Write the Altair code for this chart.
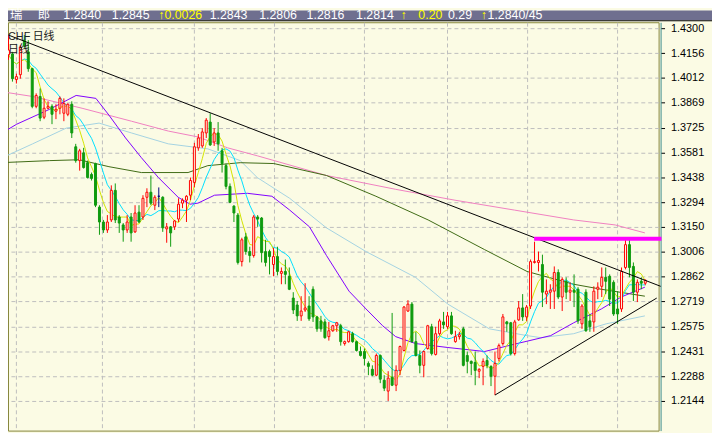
import altair as alt
import pandas as pd

# ---------------- data ----------------
opens = [
    1.4163, 1.4117, 1.4146, 1.4151, 1.4003, 1.4031, 1.4231, 1.4163, 1.4066, 1.3848,
    1.3905, 1.3785, 1.3837, 1.3848, 1.3820, 1.3837, 1.3808, 1.3802, 1.3860, 1.3614,
    1.3534, 1.3579, 1.3522, 1.3454, 1.3517, 1.3265, 1.3179, 1.3133, 1.3191, 1.3362,
    1.3208, 1.3162, 1.3133, 1.3208, 1.3122, 1.3236, 1.3208, 1.3322, 1.3351, 1.3276,
    1.3328, 1.3322, 1.3139, 1.3151, 1.3151, 1.3196, 1.3288, 1.3305, 1.3334, 1.3408,
    1.3608, 1.3619, 1.3694, 1.3757, 1.3642, 1.3694, 1.3591, 1.3505, 1.3385, 1.3271,
    1.3219, 1.2950, 1.3093, 1.3008, 1.2985, 1.3208, 1.3202, 1.3008, 1.3008, 1.2933,
    1.2979, 1.2882, 1.2893, 1.2865, 1.2739, 1.2699, 1.2636, 1.2670, 1.2693, 1.2790,
    1.2630, 1.2607, 1.2601, 1.2516, 1.2550, 1.2579, 1.2579, 1.2476, 1.2487, 1.2533,
    1.2487, 1.2430, 1.2430, 1.2361, 1.2327, 1.2293, 1.2407, 1.2264, 1.2201, 1.2281,
    1.2235, 1.2321, 1.2436, 1.2664, 1.2704, 1.2487, 1.2407, 1.2350, 1.2447, 1.2573,
    1.2413, 1.2533, 1.2601, 1.2573, 1.2636, 1.2487, 1.2516, 1.2561, 1.2407, 1.2373,
    1.2367, 1.2316, 1.2344, 1.2378, 1.2344, 1.2287, 1.2390, 1.2476, 1.2601, 1.2596,
    1.2418, 1.2613, 1.2682, 1.2630, 1.2693, 1.2945, 1.2945, 1.2933, 1.2762, 1.2773,
    1.2779, 1.2887, 1.2745, 1.2836, 1.2773, 1.2785, 1.2790, 1.2590, 1.2773, 1.2607,
    1.2601, 1.2790, 1.2807, 1.2859, 1.2865, 1.2830, 1.2676, 1.2676, 1.2916, 1.3048,
    1.2922, 1.2773, 1.2836, 1.2825,
]
highs = [
    1.4209, 1.4191, 1.4260, 1.4163, 1.4037, 1.4203, 1.4260, 1.4231, 1.4071, 1.3923,
    1.3951, 1.3894, 1.3877, 1.3860, 1.3860, 1.3905, 1.3894, 1.3865, 1.3877, 1.3631,
    1.3602, 1.3608, 1.3534, 1.3465, 1.3522, 1.3276, 1.3191, 1.3219, 1.3391, 1.3402,
    1.3219, 1.3173, 1.3219, 1.3231, 1.3276, 1.3276, 1.3334, 1.3374, 1.3448, 1.3334,
    1.3379, 1.3328, 1.3173, 1.3156, 1.3191, 1.3316, 1.3316, 1.3334, 1.3436, 1.3637,
    1.3688, 1.3722, 1.3780, 1.3808, 1.3722, 1.3757, 1.3608, 1.3517, 1.3402, 1.3276,
    1.3231, 1.3088, 1.3116, 1.3036, 1.3219, 1.3219, 1.3208, 1.3076, 1.3019, 1.3030,
    1.3036, 1.2916, 1.2962, 1.2916, 1.2773, 1.2722, 1.2750, 1.2825, 1.2750, 1.2807,
    1.2636, 1.2636, 1.2619, 1.2601, 1.2584, 1.2601, 1.2590, 1.2493, 1.2550, 1.2544,
    1.2493, 1.2459, 1.2447, 1.2373, 1.2350, 1.2418, 1.2413, 1.2293, 1.2316, 1.2653,
    1.2350, 1.2464, 1.2693, 1.2727, 1.2716, 1.2544, 1.2436, 1.2436, 1.2584, 1.2590,
    1.2573, 1.2619, 1.2659, 1.2659, 1.2659, 1.2550, 1.2544, 1.2573, 1.2430, 1.2378,
    1.2430, 1.2333, 1.2390, 1.2407, 1.2350, 1.2430, 1.2476, 1.2647, 1.2607, 1.2601,
    1.2613, 1.2722, 1.2762, 1.2699, 1.2962, 1.3065, 1.3008, 1.2990, 1.2847, 1.2819,
    1.2922, 1.2905, 1.2859, 1.2859, 1.2830, 1.2876, 1.2802, 1.2704, 1.2790, 1.2647,
    1.2807, 1.2830, 1.2916, 1.2916, 1.2876, 1.2842, 1.2779, 1.2916, 1.3076, 1.3076,
    1.2945, 1.2847, 1.2859, 1.2847,
]
lows = [
    1.4094, 1.4066, 1.4117, 1.3991, 1.3980, 1.4008, 1.4186, 1.4048, 1.3837, 1.3837,
    1.3762, 1.3774, 1.3831, 1.3745, 1.3774, 1.3802, 1.3762, 1.3791, 1.3665, 1.3522,
    1.3476, 1.3488, 1.3431, 1.3419, 1.3265, 1.3105, 1.3116, 1.3116, 1.3179, 1.3173,
    1.3116, 1.3065, 1.3116, 1.3065, 1.3116, 1.3173, 1.3191, 1.3265, 1.3276, 1.3248,
    1.3265, 1.3122, 1.3059, 1.3036, 1.3133, 1.3179, 1.3259, 1.3179, 1.3305, 1.3379,
    1.3591, 1.3608, 1.3665, 1.3619, 1.3619, 1.3591, 1.3465, 1.3368, 1.3288, 1.3179,
    1.2933, 1.2922, 1.2990, 1.2945, 1.2973, 1.3151, 1.2945, 1.2922, 1.2876, 1.2865,
    1.2870, 1.2819, 1.2819, 1.2785, 1.2647, 1.2607, 1.2607, 1.2659, 1.2607, 1.2601,
    1.2544, 1.2544, 1.2504, 1.2493, 1.2544, 1.2544, 1.2464, 1.2464, 1.2481, 1.2481,
    1.2430, 1.2401, 1.2350, 1.2293, 1.2287, 1.2287, 1.2247, 1.2201, 1.2144, 1.2230,
    1.2201, 1.2293, 1.2430, 1.2659, 1.2481, 1.2401, 1.2304, 1.2281, 1.2441, 1.2407,
    1.2407, 1.2522, 1.2561, 1.2561, 1.2527, 1.2481, 1.2499, 1.2344, 1.2304, 1.2293,
    1.2235, 1.2276, 1.2235, 1.2333, 1.2230, 1.2178, 1.2373, 1.2464, 1.2544, 1.2407,
    1.2407, 1.2607, 1.2607, 1.2607, 1.2676, 1.2939, 1.2893, 1.2687, 1.2704, 1.2676,
    1.2676, 1.2733, 1.2664, 1.2733, 1.2722, 1.2687, 1.2590, 1.2561, 1.2544, 1.2544,
    1.2544, 1.2733, 1.2745, 1.2762, 1.2693, 1.2636, 1.2590, 1.2659, 1.2905, 1.2859,
    1.2722, 1.2716, 1.2790, 1.2813,
]
closes = [
    1.4117, 1.4146, 1.4174, 1.4008, 1.4020, 1.4191, 1.4197, 1.4066, 1.3848, 1.3911,
    1.3780, 1.3837, 1.3848, 1.3802, 1.3831, 1.3894, 1.3865, 1.3860, 1.3694, 1.3534,
    1.3591, 1.3494, 1.3436, 1.3431, 1.3276, 1.3179, 1.3133, 1.3179, 1.3362, 1.3191,
    1.3173, 1.3133, 1.3179, 1.3116, 1.3231, 1.3179, 1.3316, 1.3351, 1.3288, 1.3322,
    1.3328, 1.3145, 1.3151, 1.3116, 1.3185, 1.3282, 1.3305, 1.3328, 1.3419, 1.3614,
    1.3665, 1.3700, 1.3768, 1.3625, 1.3694, 1.3631, 1.3517, 1.3385, 1.3293, 1.3231,
    1.2945, 1.3076, 1.3008, 1.2985, 1.3208, 1.3196, 1.3002, 1.2945, 1.2979, 1.2979,
    1.2893, 1.2893, 1.2876, 1.2790, 1.2670, 1.2636, 1.2664, 1.2682, 1.2619, 1.2630,
    1.2561, 1.2561, 1.2510, 1.2550, 1.2579, 1.2596, 1.2487, 1.2487, 1.2544, 1.2487,
    1.2436, 1.2407, 1.2390, 1.2344, 1.2293, 1.2407, 1.2270, 1.2218, 1.2276, 1.2235,
    1.2321, 1.2459, 1.2687, 1.2704, 1.2487, 1.2407, 1.2350, 1.2430, 1.2579, 1.2418,
    1.2533, 1.2607, 1.2584, 1.2636, 1.2533, 1.2516, 1.2527, 1.2350, 1.2373, 1.2361,
    1.2321, 1.2327, 1.2373, 1.2350, 1.2287, 1.2361, 1.2464, 1.2630, 1.2590, 1.2418,
    1.2601, 1.2682, 1.2630, 1.2687, 1.2950, 1.2950, 1.2956, 1.2773, 1.2779, 1.2785,
    1.2887, 1.2745, 1.2847, 1.2773, 1.2785, 1.2773, 1.2607, 1.2693, 1.2550, 1.2573,
    1.2779, 1.2802, 1.2859, 1.2836, 1.2733, 1.2647, 1.2647, 1.2893, 1.3048, 1.2916,
    1.2773, 1.2830, 1.2825, 1.2842,
]
days = list(range(len(closes)))

# month separators (day positions of the dashed vertical grid lines)
month_lines = [3.8, 25.6, 48.9, 69.0, 91.9, 112.9, 133.1, 155.9]
# right-axis tick labels
y_ticks = [1.4300, 1.4156, 1.4012, 1.3869, 1.3725, 1.3581, 1.3438, 1.3294,
           1.3150, 1.3006, 1.2862, 1.2719, 1.2575, 1.2431, 1.2288, 1.2144]

# slow moving averages, sampled along the drawn curves
pink_day = [-0.1, 8.1, 20.6, 33.1, 42.4, 49.9, 57.4, 64.9, 82.4, 99.9, 114.9, 129.9, 144.9, 155.4, 162.9]
pink_val = [1.3934, 1.3905, 1.3837, 1.3762, 1.3705, 1.3671, 1.3608, 1.3562, 1.3448, 1.3368,
            1.3305, 1.3248, 1.3191, 1.3162, 1.3116]
olive_day = [-0.1, 12.4, 19.9, 27.4, 35.6, 47.4, 52.4, 60.6, 69.1, 82.4, 94.9, 108.1, 122.4,
             133.1, 144.9, 151.9, 162.9]
olive_val = [1.3522, 1.3534, 1.3539, 1.3499, 1.3465, 1.3465, 1.3505, 1.3522, 1.3517, 1.3448,
             1.3328, 1.3191, 1.3019, 1.2893, 1.2819, 1.2790, 1.2750]
lblue_day = [-0.1, 8.1, 16.6, 24.9, 33.1, 42.4, 52.4, 60.6, 64.9, 73.1, 82.4, 92.4, 104.9,
             113.1, 123.6, 133.1, 136.6, 144.9, 153.1, 162.9]
lblue_val = [1.3545, 1.3631, 1.3722, 1.3751, 1.3694, 1.3631, 1.3602, 1.3534, 1.3436, 1.3316,
             1.3145, 1.3008, 1.2859, 1.2704, 1.2561, 1.2522, 1.2510, 1.2533, 1.2590, 1.2636]
purple_day = [-0.1, 4.1, 12.4, 19.1, 24.1, 27.4, 31.6, 35.6, 39.9, 44.9, 47.9, 49.9, 54.1,
              62.4, 68.6, 73.1, 78.1, 82.4, 88.1, 92.4, 96.6, 99.9, 104.9, 113.1, 122.4,
              130.6, 139.1, 144.9, 151.9, 156.9, 162.9]
purple_val = [1.3688, 1.3745, 1.3831, 1.3911, 1.3894, 1.3797, 1.3665, 1.3551, 1.3436, 1.3322,
              1.3282, 1.3288, 1.3334, 1.3345, 1.3328, 1.3248, 1.3151, 1.2985, 1.2779, 1.2676,
              1.2579, 1.2516, 1.2476, 1.2453, 1.2430, 1.2476, 1.2522, 1.2596, 1.2676, 1.2745,
              1.2802]

# trend lines and resistance
trend_start_day = [2.0, 125.0]
trend_start_val = [1.4260, 1.2178]
trend_end_day = [166.9, 165.9]
trend_end_val = [1.2807, 1.2739]
resist_from, resist_to, resist_val = 134.9, 167.1, 1.3082

# quote bar
header_text = ["瑞", "郎", "1.2840", "1.2845", "↑0.0026", "1.2843", "1.2806", "1.2816",
               "1.2814", "↑", "0.20", "0.29", "↑", "1.2840/45"]
header_yellow = [False, False, False, False, True, False, False, False,
                 False, True, True, False, True, False]
corner_text = ["CHF", "日线", "日线"]

# ---------------- layout / style ----------------
BG = "#fbfbe4"
GREEN = "#0f9b0f"
RED = "#ff0000"
PLOT_W, PLOT_H = 658, 413
header_px = [2, 30, 56, 105, 152, 204, 254, 302, 352, 397, 415, 445, 478, 485]
corner_pos = [(0, 18), (25, 18), (0, 31)]
FONT = "Liberation Sans, Noto Sans CJK SC"

x_scale = alt.Scale(domain=[1.875, 166.375], nice=False, zero=False)
y_scale = alt.Scale(domain=[1.197243, 1.433431], nice=False, zero=False)
x_axis = alt.Axis(values=month_lines, grid=True, gridColor="#bdbdbd", gridDash=[4, 3],
                  labels=False, ticks=False, domain=False, title=None)
y_axis = alt.Axis(orient="right", values=y_ticks, format=".4f", grid=True,
                  gridColor="#bdbdbd", gridDash=[4, 3], domainColor="#3c8c8c",
                  offset=2, tickSize=4, tickColor="#000000", labelPadding=6,
                  labelFont="Liberation Sans", labelFontSize=11, labelColor="#000000",
                  labelFlush=False, labelOverlap=False, title=None)

df = pd.DataFrame({"day": days, "open": opens, "high": highs, "low": lows, "close": closes})
df["dir"] = ["up" if c > o else ("down" if c < o else "flat") for o, c in zip(opens, closes)]

dir_dom = ["up", "down", "flat"]
stroke_scale = alt.Scale(domain=dir_dom, range=[RED, GREEN, "#000080"])
fill_scale = alt.Scale(domain=dir_dom, range=[BG, GREEN, "#000080"])

X = lambda f: alt.X(f, type="quantitative", scale=x_scale, axis=x_axis)
Y = lambda f: alt.Y(f, type="quantitative", scale=y_scale, axis=y_axis)


def sampled_line(d, v, color):
    data = pd.DataFrame({"day": d, "val": v})
    return alt.Chart(data).mark_line(color=color, strokeWidth=1).encode(x=X("day"), y=Y("val"))


layers = [
    sampled_line(pink_day, pink_val, "#f080c0"),
    sampled_line(lblue_day, lblue_val, "#a4d2e2"),
    sampled_line(olive_day, olive_val, "#3f6a14"),
    sampled_line(purple_day, purple_val, "#8000ff"),
]

base = alt.Chart(df)
layers.append(
    base.transform_window(ma10="mean(close)", frame=[-9, 0], sort=[{"field": "day"}])
    .mark_line(color="#00e0ff", strokeWidth=1).encode(x=X("day"), y=Y("ma10"))
)
layers.append(
    base.transform_window(ma5="mean(close)", frame=[-4, 0], sort=[{"field": "day"}])
    .mark_line(color="#d2e400", strokeWidth=1).encode(x=X("day"), y=Y("ma5"))
)
# wicks
layers.append(
    base.mark_rule(strokeWidth=1).encode(
        x=X("day"), y=Y("low"), y2="high",
        color=alt.Color("dir:N", scale=stroke_scale, legend=None))
)
# bodies
layers.append(
    base.transform_calculate(x1="datum.day - 0.25", x2="datum.day + 0.25")
    .mark_rect(strokeWidth=1).encode(
        x=X("x1"), x2="x2", y=Y("open"), y2="close",
        fill=alt.Fill("dir:N", scale=fill_scale, legend=None),
        stroke=alt.Stroke("dir:N", scale=stroke_scale, legend=None))
)
# trend lines
tdf = pd.DataFrame({"d0": trend_start_day, "v0": trend_start_val,
                    "d1": trend_end_day, "v1": trend_end_val})
layers.append(
    alt.Chart(tdf).mark_rule(color="#000000", strokeWidth=1).encode(
        x=X("d0"), y=Y("v0"), x2="d1", y2="v1")
)
rdf = pd.DataFrame({"d0": [resist_from], "d1": [resist_to], "v": [resist_val]})
layers.append(
    alt.Chart(rdf).mark_rule(color="#ff00ff", strokeWidth=4).encode(
        x=X("d0"), x2="d1", y=Y("v"))
)

one = pd.DataFrame({"k": [0]})
# quote bar on top
layers.append(
    alt.Chart(one).mark_rect(color="#6f6f8f").encode(
        x=alt.value(0), x2=alt.value(712), y=alt.value(-12), y2=alt.value(-2))
)
layers.append(
    alt.Chart(one).mark_rule(color="#000000", strokeWidth=1).encode(
        x=alt.value(0), x2=alt.value(712), y=alt.value(-1.5))
)
for txt, yel, px in zip(header_text, header_yellow, header_px):
    layers.append(
        alt.Chart(one).mark_text(align="left", baseline="alphabetic", fontSize=12.5,
                                 font=FONT, color="#ffff00" if yel else "#ffffff")
        .encode(x=alt.value(px), y=alt.value(-3.5), text=alt.value(txt))
    )
# symbol / period labels in the top-left corner
for txt, (px, py) in zip(corner_text, corner_pos):
    layers.append(
        alt.Chart(one).mark_text(align="left", baseline="alphabetic", fontSize=11,
                                 font=FONT, color="#202020")
        .encode(x=alt.value(px), y=alt.value(py), text=alt.value(txt))
    )

chart = alt.layer(*layers).properties(
    width=PLOT_W, height=PLOT_H,
    autosize=alt.AutoSizeParams(type="none"),
    padding={"left": 0, "top": 12, "right": 54, "bottom": 0},
).configure(background=BG).configure_view(stroke="#86863a", strokeWidth=1)

chart.save("out.html", embed_options={"renderer": "svg", "actions": False})
